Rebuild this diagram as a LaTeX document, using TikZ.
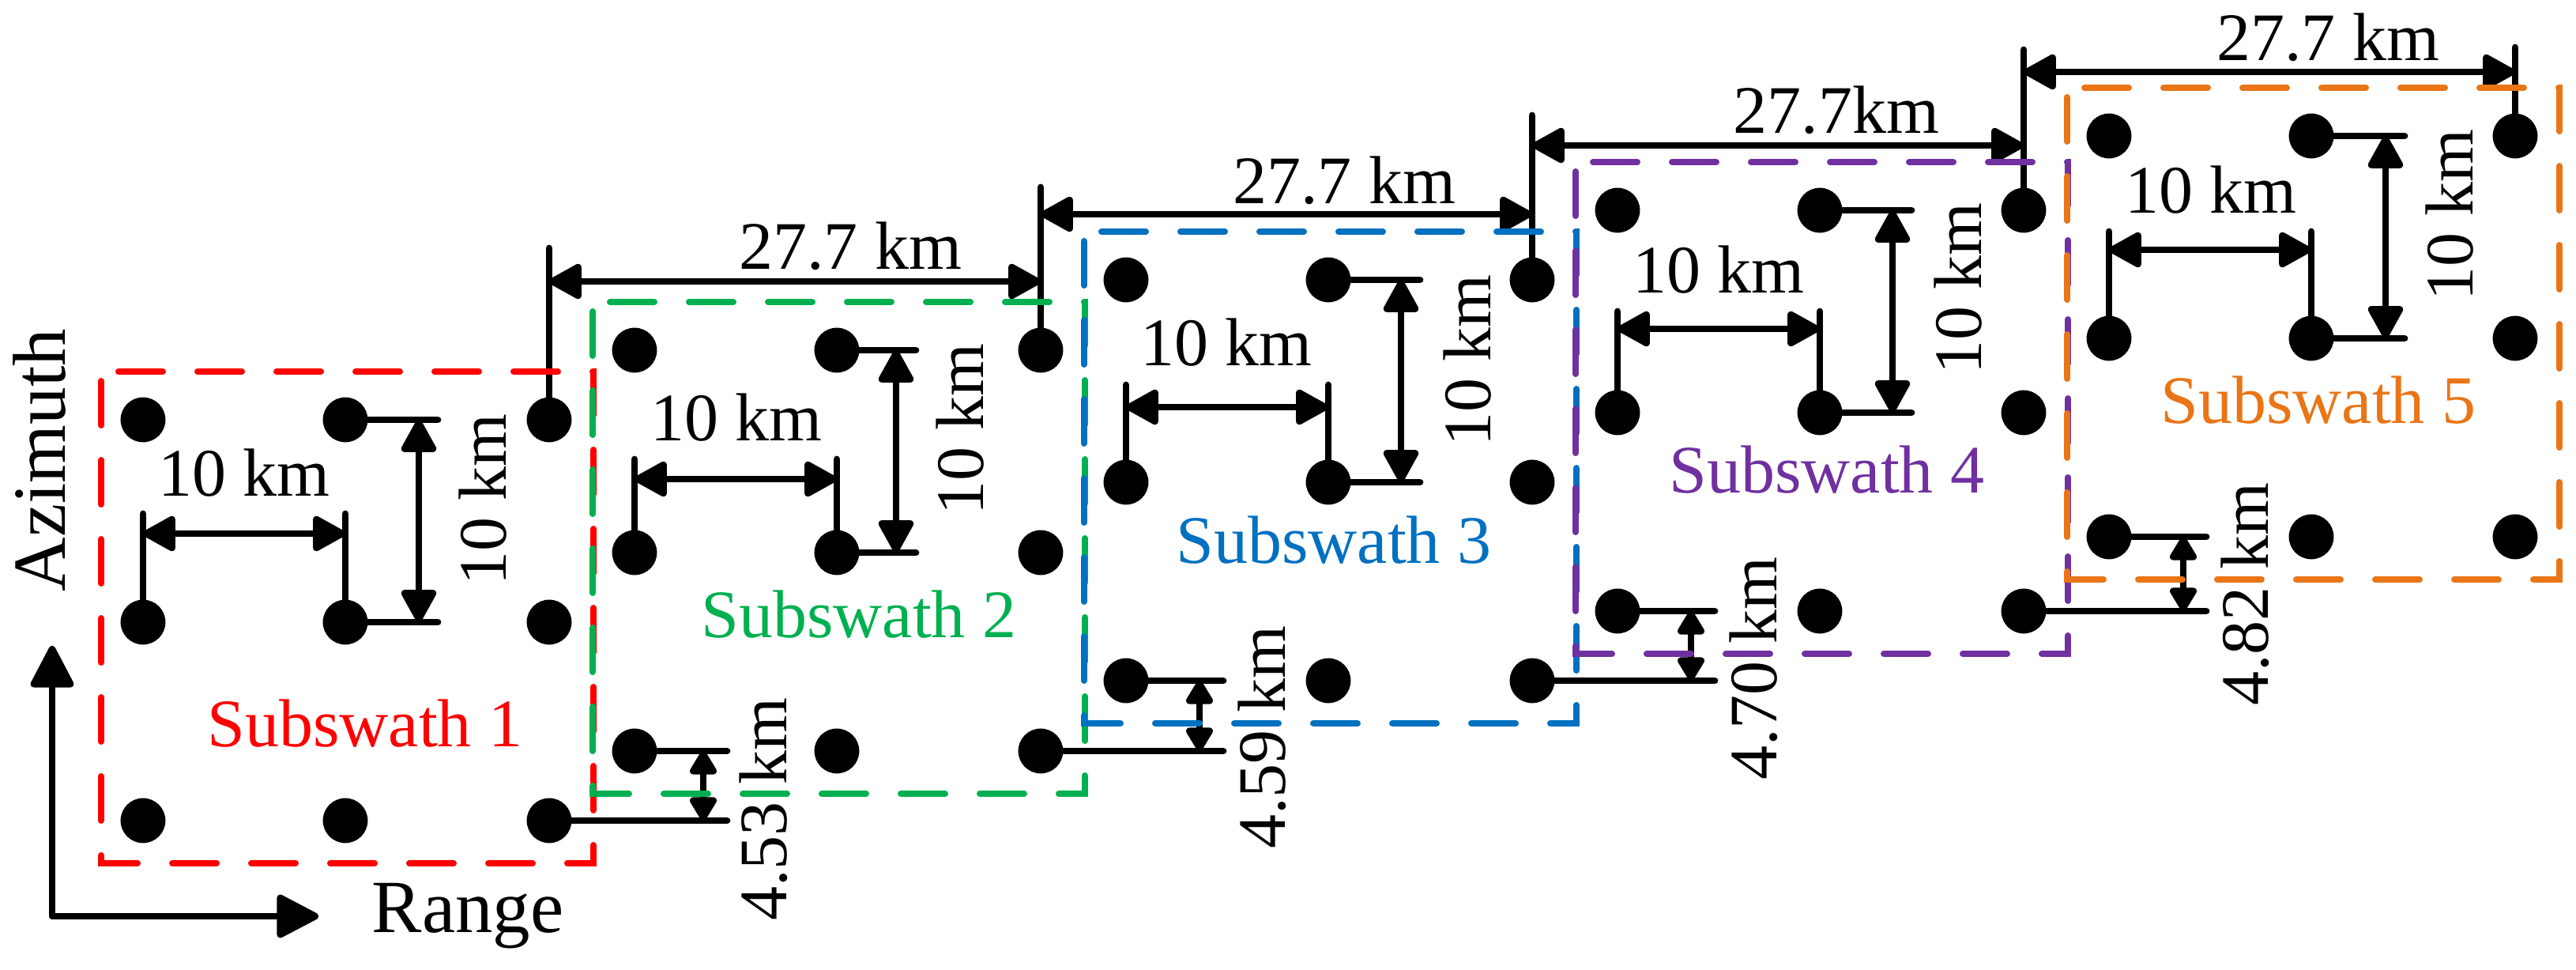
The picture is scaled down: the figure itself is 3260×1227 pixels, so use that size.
\documentclass[tikz,border=0pt]{standalone}
\usepackage{fontspec}
\setmainfont{Liberation Serif}
\usetikzlibrary{arrows.meta}
\definecolor{swred}{RGB}{255,0,0}
\definecolor{swgreen}{RGB}{0,176,80}
\definecolor{swblue}{RGB}{0,112,192}
\definecolor{swpurple}{RGB}{112,48,160}
\definecolor{sworange}{RGB}{233,117,22}
\begin{document}
\begin{tikzpicture}[x=0.25pt,y=-0.25pt,
  dot/.style={circle,fill=black,inner sep=0pt,minimum size=14.2pt},
  dimline/.style={line width=2.2pt,line cap=round},
  bigarr/.style={dimline,{Triangle[length=11.5pt,width=12pt,round]}-{Triangle[length=11.5pt,width=12pt,round]}},
  smallarr/.style={dimline,{Triangle[length=8.5pt,width=9.5pt,round]}-{Triangle[length=8.5pt,width=9.5pt,round]}},
  lbl/.style={font=\fontsize{21.5pt}{25pt}\selectfont,inner sep=0pt},
  axlbl/.style={font=\fontsize{23.75pt}{27pt}\selectfont,inner sep=0pt},
  swbox/.style={line width=2pt,line cap=round,dash pattern=on 14pt off 11pt,dash phase=22pt},
]
\useasboundingbox (0,0) rectangle (3260,1227);

% dots
\foreach \kk/\xo/\yo in {1/181/531, 2/803/443, 3/1425/354, 4/2047/266, 5/2669/172} {
  \foreach \cc/\dx in {1/0,2/256,3/514} {
    \foreach \rr/\dy in {1/0,2/256,3/507} {
      \node[dot] (d\kk\rr\cc) at (\xo+\dx,\yo+\dy) {};
    }
  }
}

% 10 km dimensions
\foreach \kk/\xo/\yo/\ha/\ht/\vx/\va in {1/181/531/675/650/554/530, 2/803/443/606/581/1159/1134, 3/1425/354/515/487/1797/1773, 4/2047/266/416/394/2419/2395, 5/2669/172/316/293/3043/3019} {
  \coordinate (hta\kk) at (\xo,\ht);
  \coordinate (htb\kk) at (\xo+256,\ht);
  \draw[dimline] (d\kk21.center) -- (hta\kk);
  \draw[dimline] (d\kk22.center) -- (htb\kk);
  \coordinate (haa\kk) at (\xo,\ha);
  \coordinate (hab\kk) at (\xo+256,\ha);
  \draw[bigarr] (haa\kk) -- (hab\kk);
  \coordinate (vta\kk) at (\vx,\yo);
  \coordinate (vtb\kk) at (\vx,\yo+256);
  \draw[dimline] (d\kk12.center) -- (vta\kk);
  \draw[dimline] (d\kk22.center) -- (vtb\kk);
  \coordinate (vaa\kk) at (\va,\yo);
  \coordinate (vab\kk) at (\va,\yo+256);
  \draw[bigarr] (vaa\kk) -- (vab\kk);
}

% 10 km labels
\foreach \kk/\px/\py in {1/309/598, 2/932/528, 3/1552/433, 4/2175/341, 5/2798/240}
  \node[lbl] (hl\kk) at (\px,\py) {10 km};
\foreach \kk/\px/\py in {1/611/632, 2/1215/543, 3/1857/456, 4/2478/365, 5/3100/272}
  \node[lbl,rotate=90] (vl\kk) at (\px,\py) {10 km};

% 27.7 km dimensions
\foreach \kk/\xa/\xb/\ay/\ty in {1/695/1317/356/314, 2/1317/1939/271/237, 3/1939/2561/184/146, 4/2561/3183/91/63} {
  \coordinate (tt\kk) at (\xa,\ty);
  \draw[dimline] (d\kk13.center) -- (tt\kk);
  \coordinate (tl\kk) at (\xa,\ay);
  \coordinate (tr\kk) at (\xb,\ay);
  \draw[bigarr] (tl\kk) -- (tr\kk);
}
\coordinate (tt5) at (3183,60);
\draw[dimline] (d513.center) -- (tt5);
\node[lbl] (tk1) at (1076,311) {27.7 km};
\node[lbl] (tk2) at (1701,228) {27.7 km};
\node[lbl] (tk3) at (2324,139) {27.7km};
\node[lbl] (tk4) at (2946,47) {27.7 km};

% offset dimensions
\foreach \kk/\nn/\xe/\ax/\yu/\yl/\lx/\ly/\txt in {1/2/920/890/950/1038/966/1024/4.53, 2/3/1548/1518/861/950/1597/933/4.59, 3/4/2170/2140/773/861/2219/846/4.70, 4/5/2792/2763/679/773/2841/752/4.82} {
  \coordinate (su\kk) at (\xe,\yu);
  \coordinate (sl\kk) at (\xe,\yl);
  \draw[dimline] (d\nn31.center) -- (su\kk);
  \draw[dimline] (d\kk33.center) -- (sl\kk);
  \coordinate (sa\kk) at (\ax,\yu);
  \coordinate (sb\kk) at (\ax,\yl);
  \draw[smallarr] (sa\kk) -- (sb\kk);
  \node[lbl,rotate=90] (ol\kk) at (\lx,\ly) {\txt\ km};
}

% axes
\coordinate (ax0) at (66,1159);
\coordinate (axy) at (66,817);
\coordinate (axx) at (403,1159);
\draw[dimline,line join=round,{Triangle[length=14.5pt,width=14.5pt,round]}-{Triangle[length=14.5pt,width=14.5pt,round]}] (axy) -- (ax0) -- (axx);
\node[axlbl,anchor=base] (range) at (592,1180) {Range};
\node[axlbl,anchor=base,rotate=90] (azimuth) at (82,582) {Azimuth};

% subswath labels
\node[lbl,text=swred] (s1) at (462,915) {Subswath 1};
\node[lbl,text=swgreen] (s2) at (1087,777) {Subswath 2};
\node[lbl,text=swblue] (s3) at (1688,683) {Subswath 3};
\node[lbl,text=swpurple] (s4) at (2312,594) {Subswath 4};
\node[lbl,text=sworange] (s5) at (2934,506) {Subswath 5};

% boxes
\draw[swbox,swred] (128,470) -- (128,1092) -- (751,1092) -- (751,470) -- cycle;
\draw[swbox,swgreen] (750,382) -- (750,1004) -- (1373,1004) -- (1373,382) -- cycle;
\draw[swbox,swblue] (1372,293) -- (1372,915) -- (1995,915) -- (1995,293) -- cycle;
\draw[swbox,swpurple] (1994,205) -- (1994,827) -- (2617,827) -- (2617,205) -- cycle;
\draw[swbox,sworange] (2616,111) -- (2616,733) -- (3239,733) -- (3239,111) -- cycle;
\end{tikzpicture}
\end{document}
